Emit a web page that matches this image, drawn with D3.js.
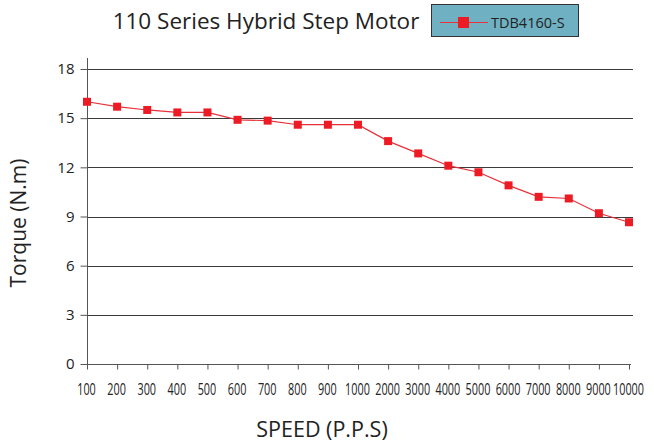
<!DOCTYPE html>
<html>
<head>
<meta charset="utf-8">
<script src="https://cdn.jsdelivr.net/npm/d3@7"></script>
<style>
  html, body { margin: 0; padding: 0; background: #fff; }
  svg { display: block; }
  text { font-family: "Open Sans", "Noto Sans", sans-serif; fill: #222; }
</style>
</head>
<body>
<svg id="chart" width="654" height="443"></svg>
<script>
const speeds = ["100","200","300","400","500","600","700","800","900","1000","2000","3000","4000","5000","6000","7000","8000","9000","10000"];
const torque = [16.0, 15.7, 15.5, 15.35, 15.35, 14.9, 14.85, 14.6, 14.6, 14.6, 13.6, 12.85, 12.1, 11.7, 10.9, 10.2, 10.1, 9.2, 8.65];
const yTicks = [0, 3, 6, 9, 12, 15, 18];
const seriesName = "TDB4160-S";
const titleText = "110 Series Hybrid Step Motor";
const xTitle = "SPEED (P.P.S)";
const yTitle = "Torque (N.m)";

const svg = d3.select("#chart");
const x = d3.scalePoint().domain(speeds).range([87, 629]);
const y = d3.scaleLinear().domain([0, 18]).range([364, 69]);

// gridlines
svg.append("g").selectAll("line").data(yTicks.filter(d => d > 0)).join("line")
  .attr("x1", 87).attr("x2", 633)
  .attr("y1", d => Math.round(y(d)) + 0.5).attr("y2", d => Math.round(y(d)) + 0.5)
  .attr("stroke", "#3a3a3a").attr("stroke-width", 1.2);

// y axis
const yAxis = svg.append("g").attr("transform", "translate(87.5,0)")
  .call(d3.axisLeft(y).tickValues(yTicks).tickSize(7).tickPadding(6).tickFormat(d3.format("d")));
yAxis.select(".domain").attr("stroke", "#555").attr("d", "M0,58V364.5");
yAxis.selectAll(".tick line").attr("stroke", "#555");
yAxis.selectAll(".tick text").attr("font-size", 15).attr("fill", "#222");

// x axis
const xAxis = svg.append("g").attr("transform", "translate(0,364.5)")
  .call(d3.axisBottom(x).tickSize(5).tickPadding(14.5));
xAxis.select(".domain").attr("stroke", "#555").attr("d", "M81,0H631");
xAxis.selectAll(".tick line").attr("stroke", "#555");
xAxis.selectAll(".tick text").attr("font-size", 15.5).attr("transform", "translate(-1,0) scale(0.7,1)").attr("fill", "#222");

// line
svg.append("path").datum(torque)
  .attr("fill", "none").attr("stroke", "#e8303a").attr("stroke-width", 1.2)
  .attr("d", d3.line().x((d, i) => x(speeds[i])).y(d => y(d)));

// markers
svg.append("g").selectAll("rect").data(torque).join("rect")
  .attr("x", (d, i) => x(speeds[i]) - 4).attr("y", d => y(d) - 4)
  .attr("width", 8).attr("height", 8).attr("fill", "#ed1c24");

// title
svg.append("text").attr("x", 266).attr("y", 29).attr("text-anchor", "middle")
  .attr("font-size", 22.5).attr("fill", "#222").text(titleText);

// legend
const lg = svg.append("g");
lg.append("rect").attr("x", 431.5).attr("y", 4.5).attr("width", 147).attr("height", 32)
  .attr("fill", "#6fb1c2").attr("stroke", "#333").attr("stroke-width", 1);
lg.append("line").attr("x1", 440).attr("x2", 488).attr("y1", 22.5).attr("y2", 22.5)
  .attr("stroke", "#e8303a").attr("stroke-width", 1.2);
lg.append("rect").attr("x", 458).attr("y", 17).attr("width", 11).attr("height", 11).attr("fill", "#ed1c24");
lg.append("text").attr("x", 491).attr("y", 27.5).attr("font-size", 14.5).attr("fill", "#222").text(seriesName);

// axis titles
svg.append("text").attr("x", 322).attr("y", 437).attr("text-anchor", "middle")
  .attr("font-size", 21.5).text(xTitle);
svg.append("text").attr("transform", "translate(26,223) rotate(-90)").attr("text-anchor", "middle")
  .attr("font-size", 21).text(yTitle);
</script>
</body>
</html>
